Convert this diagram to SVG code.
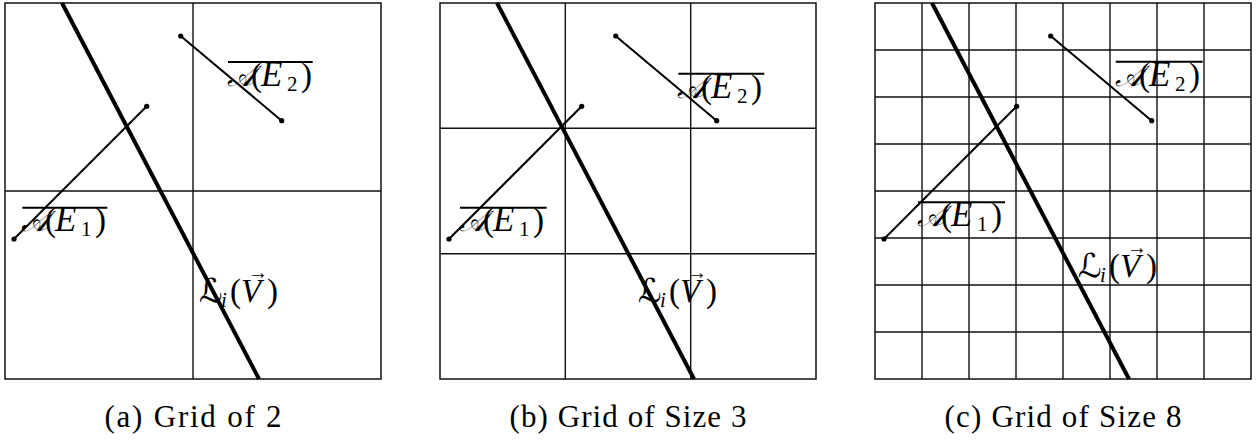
<svg xmlns="http://www.w3.org/2000/svg" width="1257" height="441" viewBox="0 0 1257 441">
<style>
.bg{fill:#fff}
.frame{fill:none;stroke:#111;stroke-width:1.5}
.grid{stroke:#111;stroke-width:1.4;fill:none}
.thick{stroke:#000;stroke-width:4;stroke-linecap:butt}
.seg{stroke:#000;stroke-width:2}
.dot{fill:#000}
.ovl{stroke:#000;stroke-width:2}
.lbl{font-family:"Liberation Serif","DejaVu Serif","DejaVu Sans",serif;font-size:33px;fill:#000}
.it{font-style:italic}
.cal{font-size:29px}
.big{font-size:35px}
.sub{font-size:21px}
.arr{font-family:"Liberation Serif","DejaVu Sans",serif;font-size:20px}
.cap{font-family:"Liberation Serif",serif;font-size:31px;fill:#000;text-anchor:middle}
</style>
<defs>
<g id="lines">
<line class="thick" x1="62" y1="3" x2="259" y2="379"/>
<line class="seg" x1="14" y1="239" x2="146.7" y2="106.3"/>
<circle class="dot" cx="14" cy="239" r="2.6"/>
<circle class="dot" cx="146.7" cy="106.3" r="2.6"/>
<line class="seg" x1="180.7" y1="36" x2="281.7" y2="120.7"/>
<circle class="dot" cx="180.7" cy="36" r="2.6"/>
<circle class="dot" cx="281.7" cy="120.7" r="2.6"/>
</g>
</defs>
<rect class="bg" x="0" y="0" width="1257" height="441"/>

<g id="panel-a">
<rect class="frame" x="5" y="3" width="376" height="376"/>
<path class="grid" d="M193 3V379M5 191H381"/>
<use href="#lines"/>
<line class="ovl" x1="22.3" y1="207.7" x2="107.3" y2="207.7"/>
<text class="lbl" y="231"><tspan class="it cal" x="21">𝒜</tspan><tspan x="45">(</tspan><tspan class="it big" x="55">E</tspan><tspan class="sub" x="81" dy="5">1</tspan><tspan x="95" dy="-5">)</tspan></text>
<line class="ovl" x1="228" y1="62" x2="312.7" y2="62"/>
<text class="lbl" y="86"><tspan class="it cal" x="227">𝒜</tspan><tspan x="251">(</tspan><tspan class="it big" x="261">E</tspan><tspan class="sub" x="287" dy="5">2</tspan><tspan x="301" dy="-5">)</tspan></text>
<text class="lbl" y="302"><tspan class="it" x="199">ℒ</tspan><tspan class="it sub" x="221" dy="5">i</tspan><tspan x="230" dy="-5">(</tspan><tspan class="it" x="241">V</tspan><tspan x="267">)</tspan></text>
<text class="arr" x="248" y="279">→</text>
</g>

<g id="panel-b">
<rect class="frame" x="440" y="3" width="376" height="376"/>
<path class="grid" d="M565.3 3V379M690.7 3V379M440 128.3H816M440 253.7H816"/>
<use href="#lines" x="435"/>
<line class="ovl" x1="460" y1="207.7" x2="546.7" y2="207.7"/>
<text class="lbl" y="231"><tspan class="it cal" x="459">𝒜</tspan><tspan x="483">(</tspan><tspan class="it big" x="493">E</tspan><tspan class="sub" x="519" dy="5">1</tspan><tspan x="533" dy="-5">)</tspan></text>
<line class="ovl" x1="678.3" y1="73.7" x2="764.3" y2="73.7"/>
<text class="lbl" y="97.5"><tspan class="it cal" x="677">𝒜</tspan><tspan x="701">(</tspan><tspan class="it big" x="711">E</tspan><tspan class="sub" x="737" dy="5">2</tspan><tspan x="751" dy="-5">)</tspan></text>
<text class="lbl" y="302"><tspan class="it" x="638">ℒ</tspan><tspan class="it sub" x="660" dy="5">i</tspan><tspan x="669" dy="-5">(</tspan><tspan class="it" x="680">V</tspan><tspan x="706">)</tspan></text>
<text class="arr" x="687" y="279">→</text>
</g>

<g id="panel-c">
<rect class="frame" x="875" y="3" width="376" height="376"/>
<path class="grid" d="M922 3V379M969 3V379M1016 3V379M1063 3V379M1110 3V379M1157 3V379M1204 3V379M875 50H1251M875 97H1251M875 144H1251M875 191H1251M875 238H1251M875 285H1251M875 332H1251"/>
<use href="#lines" x="870"/>
<line class="ovl" x1="918" y1="202.3" x2="1005" y2="202.3"/>
<text class="lbl" y="226"><tspan class="it cal" x="917">𝒜</tspan><tspan x="941">(</tspan><tspan class="it big" x="951">E</tspan><tspan class="sub" x="977" dy="5">1</tspan><tspan x="991" dy="-5">)</tspan></text>
<line class="ovl" x1="1115.7" y1="61.7" x2="1202.7" y2="61.7"/>
<text class="lbl" y="85.5"><tspan class="it cal" x="1115">𝒜</tspan><tspan x="1139">(</tspan><tspan class="it big" x="1149">E</tspan><tspan class="sub" x="1175" dy="5">2</tspan><tspan x="1189" dy="-5">)</tspan></text>
<text class="lbl" y="277"><tspan class="it" x="1078">ℒ</tspan><tspan class="it sub" x="1100" dy="5">i</tspan><tspan x="1109" dy="-5">(</tspan><tspan class="it" x="1120">V</tspan><tspan x="1146">)</tspan></text>
<text class="arr" x="1127" y="254">→</text>
</g>

<g id="captions">
<text class="cap" x="193" y="427" textLength="177" lengthAdjust="spacing">(a) Grid of 2</text>
<text class="cap" x="628" y="427" textLength="237" lengthAdjust="spacing">(b) Grid of Size 3</text>
<text class="cap" x="1063" y="427" textLength="237" lengthAdjust="spacing">(c) Grid of Size 8</text>
</g>
</svg>
